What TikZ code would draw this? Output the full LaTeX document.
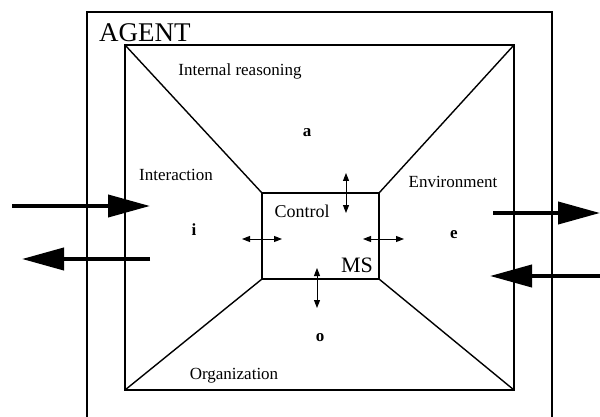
\documentclass[tikz,border=0pt]{standalone}
\usepackage{fontspec}
\setmainfont{Liberation Serif}
\usetikzlibrary{arrows.meta}
\tikzset{
  lbl/.style={inner sep=0pt, font=\fontsize{17}{17}\selectfont, anchor=base},
  letter/.style={inner sep=0pt, font=\fontsize{17}{17}\selectfont\bfseries},
  frame/.style={line width=1.1pt},
  wall/.style={line width=1.4pt},
  bigarrow/.style={line width=4pt, -{Triangle[length=42pt,width=22pt]}},
  smallarrow/.style={line width=1pt, {Triangle[length=8pt,width=6pt]}-{Triangle[length=8pt,width=6pt]}}
}
\begin{document}
\begin{tikzpicture}[x=1pt,y=-1pt]
\useasboundingbox (0,0) rectangle (600,417);
% outer agent frame (open at bottom)
\draw[frame] (87,420) -- (87,12) -- (552,12) -- (552,420);
\node[inner sep=0pt, anchor=base west, font=\fontsize{27}{27}\selectfont] (agent) at (99,41.5) {AGENT};
% inner square
\coordinate (q1) at (125,45);
\coordinate (q2) at (514,45);
\coordinate (q3) at (514,390);
\coordinate (q4) at (125,390);
% control box
\coordinate (c1) at (262,193);
\coordinate (c2) at (379,193);
\coordinate (c3) at (379,279);
\coordinate (c4) at (262,279);
\draw[frame] (q1) rectangle (q3);
\draw[frame] (c1) rectangle (c3);
\draw[wall] (q1) -- (c1) (q2) -- (c2) (q3) -- (c3) (q4) -- (c4);
% labels
\node[lbl] (ir) at (240,76) {Internal reasoning};
\node[letter] (a) at (307,133) {a};
\node[lbl] (inter) at (176,181) {Interaction};
\node[letter] (i) at (194,230) {i};
\node[lbl] (env) at (453,188) {Environment};
\node[letter] (e) at (454,235) {e};
\node[lbl, font=\fontsize{18}{18}\selectfont] (ctrl) at (302,218) {Control};
\node[lbl, font=\fontsize{22}{22}\selectfont] (ms) at (357,272) {MS};
\node[letter] (o) at (320,338) {o};
\node[lbl] (org) at (234,379) {Organization};
% small double arrows
\coordinate (ta1) at (346,173); \coordinate (ta2) at (346,213);
\coordinate (la1) at (242,239); \coordinate (la2) at (282,239);
\coordinate (ra1) at (363,239); \coordinate (ra2) at (404,239);
\coordinate (ba1) at (317,268); \coordinate (ba2) at (317,308);
\draw[smallarrow] (ta1) -- (ta2);
\draw[smallarrow] (la1) -- (la2);
\draw[smallarrow] (ra1) -- (ra2);
\draw[smallarrow] (ba1) -- (ba2);
% big arrows
\coordinate (lin1) at (12,206); \coordinate (lin2) at (150,206);
\coordinate (lout1) at (150,259); \coordinate (lout2) at (22,259);
\coordinate (rout1) at (493,213); \coordinate (rout2) at (600,213);
\coordinate (rin1) at (600,276); \coordinate (rin2) at (490,276);
\draw[bigarrow] (lin1) -- (lin2);
\draw[bigarrow] (lout1) -- (lout2);
\draw[bigarrow] (rout1) -- (rout2);
\draw[bigarrow] (rin1) -- (rin2);
\end{tikzpicture}
\end{document}
